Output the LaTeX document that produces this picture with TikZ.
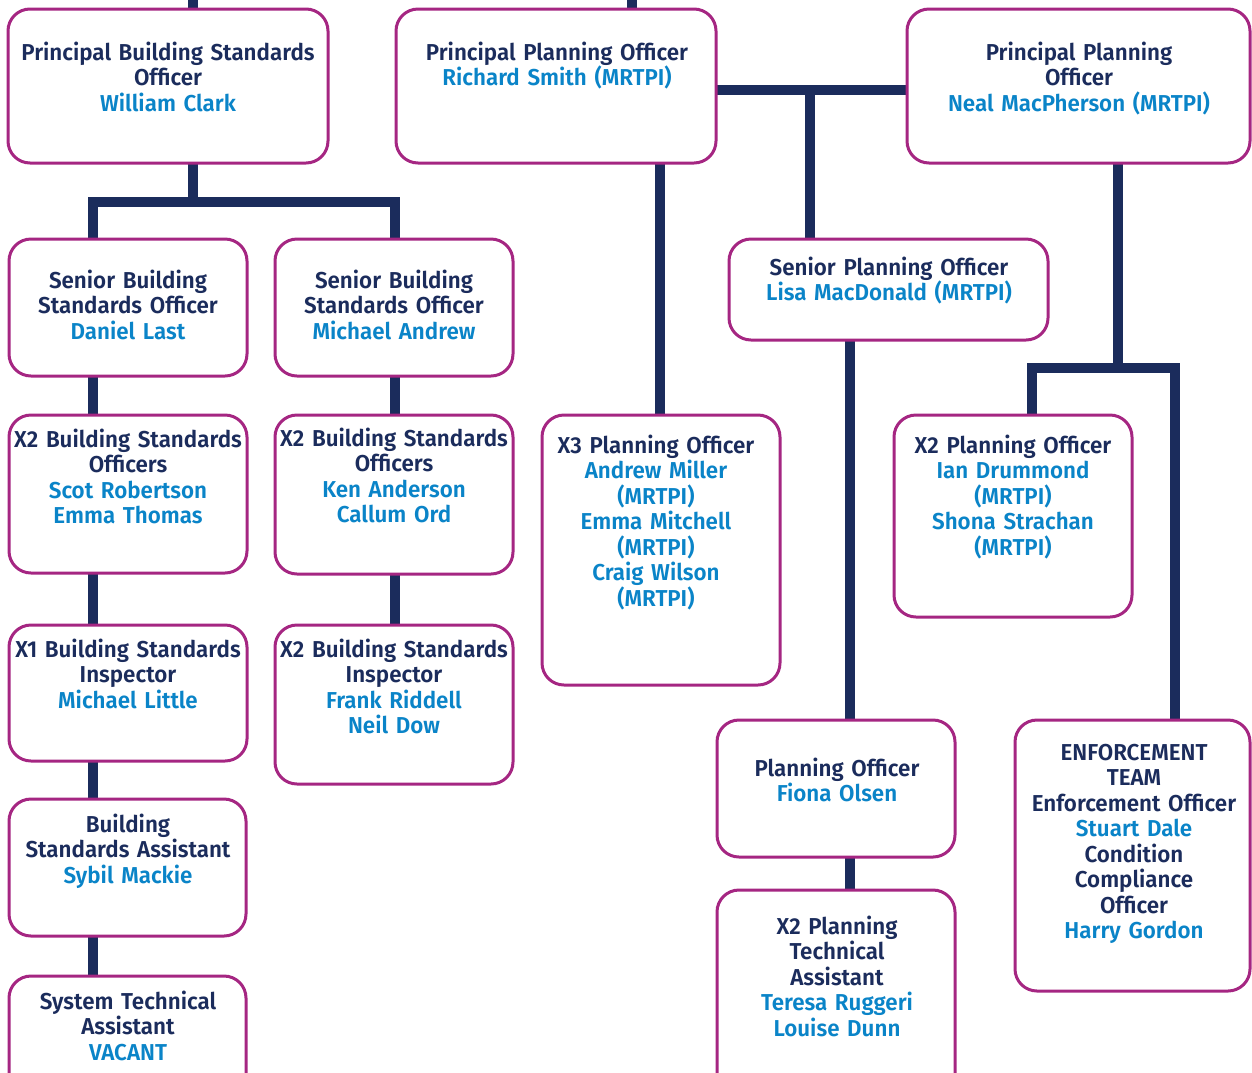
\documentclass[tikz,border=0pt]{standalone}
\usepackage{fontspec}
\setmainfont{Fira Sans SemiBold}[FakeStretch=0.972]
\definecolor{navy}{RGB}{27,44,92}
\definecolor{bluec}{RGB}{10,132,200}
\definecolor{boxc}{RGB}{165,38,130}
\pgfdeclarelayer{bg}
\pgfsetlayers{bg,main}
\newcommand\nm[1]{{\color{bluec}#1}}
\newcommand\obox[8]{%
  \node[obx, minimum width={#4-#2}, minimum height={#5-#3}] (#1) at ({(#2+#4)/2},{(#3+#5)/2}) {};
  \node[lbl] (#1-t) at (#6,#7) {#8};
}
\tikzset{
  obx/.style={draw=boxc, line width=3pt, fill=white, rounded corners=22pt, inner sep=0pt, outer sep=0pt},
  lbl/.style={text=navy, font=\fontsize{23}{25.5}\selectfont, align=center, text width=345pt, inner sep=0pt, anchor=base},
  conn/.style={draw=navy, line width=10pt, line join=miter, line cap=butt},
}
\begin{document}
\begin{tikzpicture}[x=1pt,y=-1pt]
\useasboundingbox (0,0) rectangle (1252,1072);
\clip (0,0) rectangle (1252,1072);
\obox{pbso}{8}{9}{328}{163}{168}{60}{Principal Building Standards\\Officer\\\nm{William Clark}}
\obox{ppoa}{396}{9}{716}{163}{557}{60}{Principal Planning Officer\\\nm{Richard Smith (MRTPI)}}
\obox{ppob}{907}{9}{1250}{163}{1079}{60}{Principal Planning\\Officer\\\nm{Neal MacPherson (MRTPI)}}
\obox{sba}{9}{239}{247}{376}{128}{288}{Senior Building\\Standards Officer\\\nm{Daniel Last}}
\obox{sbb}{275}{239}{513}{376}{394}{288}{Senior Building\\Standards Officer\\\nm{Michael Andrew}}
\obox{spo}{729}{239}{1048}{340}{889}{275}{Senior Planning Officer\\\nm{Lisa MacDonald (MRTPI)}}
\obox{bsoa}{9}{415}{247}{573}{128}{447}{X2 Building Standards\\Officers\\\nm{Scot Robertson}\\\nm{Emma Thomas}}
\obox{bsob}{275}{415}{513}{574}{394}{446}{X2 Building Standards\\Officers\\\nm{Ken Anderson}\\\nm{Callum Ord}}
\obox{poc}{542}{415}{780}{685}{656}{453}{X3 Planning Officer\\\nm{Andrew Miller}\\\nm{(MRTPI)}\\\nm{Emma Mitchell}\\\nm{(MRTPI)}\\\nm{Craig Wilson}\\\nm{(MRTPI)}}
\obox{pod}{894}{415}{1132}{617}{1013}{453}{X2 Planning Officer\\\nm{Ian Drummond}\\\nm{(MRTPI)}\\\nm{Shona Strachan}\\\nm{(MRTPI)}}
\obox{bsia}{9}{625}{247}{761}{128}{657}{X1 Building Standards\\Inspector\\\nm{Michael Little}}
\obox{bsib}{275}{625}{513}{784}{394}{657}{X2 Building Standards\\Inspector\\\nm{Frank Riddell}\\\nm{Neil Dow}}
\obox{bsa}{9}{799}{246}{936}{128}{832}{Building\\Standards Assistant\\\nm{Sybil Mackie}}
\obox{sta}{9}{976}{246}{1110}{128}{1009}{System Technical\\Assistant\\\nm{VACANT}}
\obox{pof}{717}{720}{955}{857}{837}{776}{Planning Officer\\\nm{Fiona Olsen}}
\obox{pta}{717}{890}{955}{1110}{837}{934}{X2 Planning\\Technical\\Assistant\\\nm{Teresa Ruggeri}\\\nm{Louise Dunn}}
\obox{enf}{1015}{720}{1250}{991}{1134}{760}{ENFORCEMENT\\TEAM\\Enforcement Officer\\\nm{Stuart Dale}\\Condition\\Compliance\\Officer\\\nm{Harry Gordon}}
\coordinate (topa) at (193,-6);
\coordinate (topb) at (632,-6);
\coordinate (jb) at (193,202);
\coordinate (jl) at (93,202);
\coordinate (jr) at (395,202);
\coordinate (jp) at (810,90);
\coordinate (jn) at (1118,368);
\coordinate (jnl) at (1032,368);
\coordinate (jnr) at (1175,368);
\coordinate (xl) at (93,0);
\coordinate (xr) at (395,0);
\coordinate (xc) at (660,0);
\coordinate (xs) at (850,0);
\begin{pgfonlayer}{bg}
\draw[conn] (topa) -- (pbso.north -| topa);
\draw[conn] (topb) -- (ppoa.north -| topb);
\draw[conn] (pbso.south -| jb) -- (jb);
\draw[conn] (sba.north -| jl) -- (jl) -- (jr) -- (sbb.north -| jr);
\draw[conn] (ppoa.east |- jp) -- (ppob.west |- jp);
\draw[conn] (jp) -- (spo.north -| jp);
\draw[conn] (ppoa.south -| xc) -- (poc.north -| xc);
\draw[conn] (ppob.south -| jn) -- (jn);
\draw[conn] (pod.north -| jnl) -- (jnl) -- (jnr) -- (enf.north -| jnr);
\draw[conn] (spo.south -| xs) -- (pof.north -| xs);
\draw[conn] (pof.south -| xs) -- (pta.north -| xs);
\draw[conn] (sba.south -| xl) -- (bsoa.north -| xl);
\draw[conn] (bsoa.south -| xl) -- (bsia.north -| xl);
\draw[conn] (bsia.south -| xl) -- (bsa.north -| xl);
\draw[conn] (bsa.south -| xl) -- (sta.north -| xl);
\draw[conn] (sbb.south -| xr) -- (bsob.north -| xr);
\draw[conn] (bsob.south -| xr) -- (bsib.north -| xr);
\end{pgfonlayer}
\end{tikzpicture}
\end{document}
